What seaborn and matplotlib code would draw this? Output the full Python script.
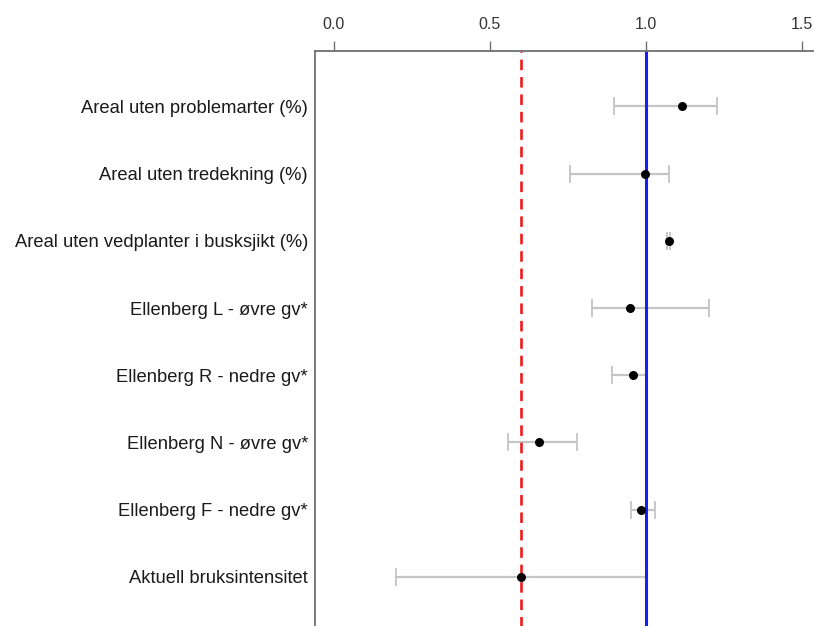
import matplotlib
matplotlib.use("Agg")
import matplotlib.pyplot as plt
import seaborn as sns
import pandas as pd

# ---- data ----
labels = [
    "Areal uten problemarter (%)",
    "Areal uten tredekning (%)",
    "Areal uten vedplanter i busksjikt (%)",
    "Ellenberg L - øvre gv*",
    "Ellenberg R - nedre gv*",
    "Ellenberg N - øvre gv*",
    "Ellenberg F - nedre gv*",
    "Aktuell bruksintensitet",
]
values = [1.116, 0.998, 1.075, 0.950, 0.960, 0.659, 0.984, 0.600]
lower = [0.898, 0.757, 1.068, 0.829, 0.893, 0.560, 0.952, 0.201]
upper = [1.229, 1.075, 1.078, 1.204, 1.005, 0.779, 1.030, 1.000]
ref_line = 1.0
threshold = 0.6
xticks = [0.0, 0.5, 1.0, 1.5]

n = len(labels)
pos = [n - i for i in range(n)]
df = pd.DataFrame({"label": labels, "value": values, "lower": lower,
                   "upper": upper, "pos": pos})

sns.set_theme(style="white")
plt.rcParams["font.family"] = ["Liberation Sans", "DejaVu Sans"]

fig = plt.figure(figsize=(8.14, 6.26), dpi=100)
W, H = 814, 626
x0_px, scale_x = 333.7, 312.0
xlim = (-0.06, 1.62)
left_px = x0_px + xlim[0] * scale_x
width_px = (xlim[1] - xlim[0]) * scale_x
ylim = (0.18, 8.82)
top_px = 51.3
row_sp = 67.2
height_px = (ylim[1] - ylim[0]) * row_sp
bottom_px = top_px + height_px
ax = fig.add_axes([left_px / W, (H - bottom_px) / H, width_px / W, height_px / H])

# error bars
ax.errorbar(df["value"], df["pos"],
            xerr=[df["value"] - df["lower"], df["upper"] - df["value"]],
            fmt="none", ecolor="#c4c4c4", elinewidth=1.6, capsize=6.5,
            capthick=1.3, zorder=1)
ax.axvline(ref_line, color="#1c1cf4", lw=2.2, zorder=2)
ax.axvline(threshold, color="#ee1c1c", lw=1.9, ls=(0, (4, 2.6)), zorder=2)
sns.scatterplot(data=df, x="value", y="pos", ax=ax, color="black", s=42,
                edgecolor="black", linewidth=0, zorder=3, legend=False)

ax.set_xlim(*xlim)
ax.set_ylim(*ylim)
ax.set_xticks(xticks)
ax.set_xticklabels([f"{t:.1f}" for t in xticks])
ax.set_yticks(pos)
ax.set_yticklabels(labels)
ax.set_xlabel("")
ax.set_ylabel("")

ax.xaxis.tick_top()
ax.tick_params(axis="x", which="both", top=True, bottom=False, length=7.2,
               width=1.0, color="#707070", pad=7, labelsize=11.5,
               labelcolor="#333333")
ax.tick_params(axis="y", left=False, length=0, pad=5, labelsize=13.2,
               labelcolor="#1a1a1a")
for s in ["right", "bottom"]:
    ax.spines[s].set_visible(False)
for s in ["top", "left"]:
    ax.spines[s].set_visible(True)
    ax.spines[s].set_color("#707070")
    ax.spines[s].set_linewidth(1.3)

fig.savefig("out.png", dpi=100)
